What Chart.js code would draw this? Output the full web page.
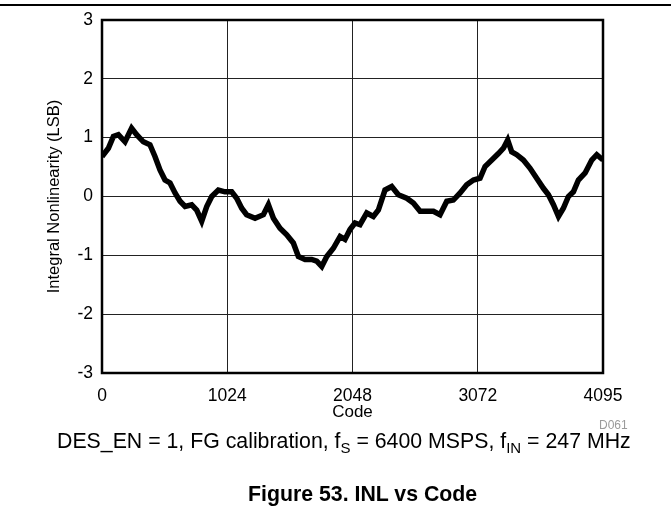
<!DOCTYPE html>
<html>
<head>
<meta charset="utf-8">
<script src="https://cdn.jsdelivr.net/npm/chart.js@4/dist/chart.umd.min.js"></script>
<style>
  html, body { margin: 0; padding: 0; background: #fff; }
  #wrap { position: relative; width: 671px; height: 510px; font-family: "Liberation Sans", Arial, sans-serif; }
  #wrap canvas { position: absolute; left: 0; top: 0; }
  .rule { position: absolute; left: 0; top: 4px; width: 671px; height: 2px; background: #000; }
  .txt { position: absolute; white-space: nowrap; color: #000; line-height: 1; }
  #docid { left: 599px; top: 419px; font-size: 12px; color: #9a9a9a; }
  #cond { left: 57px; top: 431px; font-size: 21.3px; }
  #cond sub { font-size: 15px; vertical-align: -5px; line-height: 0; }
  #fig { left: 248px; top: 484px; font-size: 21.3px; font-weight: bold; }
</style>
</head>
<body>
<div id="wrap">
  <div class="rule"></div>
  <canvas id="inlChart" width="671" height="510"></canvas>
  <div class="txt" id="docid">D061</div>
  <div class="txt" id="cond">DES_EN = 1, FG calibration, f<sub>S</sub> = 6400 MSPS, f<sub>IN</sub> = 247 MHz</div>
  <div class="txt" id="fig">Figure 53. INL vs Code</div>
</div>
<script>
// INL per output code (LSB)
const codes = [0, 52, 93, 134, 188, 242, 283, 338, 392, 433,
  474, 515, 556, 597, 638, 679, 733, 774, 815, 856,
  897, 951, 1005, 1060, 1101, 1142, 1182, 1251, 1319, 1360,
  1401, 1455, 1510, 1564, 1605, 1660, 1714, 1755, 1796, 1837,
  1891, 1946, 1986, 2027, 2068, 2109, 2164, 2218, 2259, 2313,
  2368, 2422, 2491, 2545, 2600, 2654, 2709, 2763, 2818, 2872,
  2927, 2981, 3036, 3090, 3131, 3186, 3240, 3281, 3316, 3349,
  3390, 3444, 3499, 3553, 3608, 3649, 3690, 3731, 3771, 3812,
  3853, 3894, 3949, 4003, 4044, 4095];
const inl = [0.68, 0.82, 1.02, 1.05, 0.93, 1.16, 1.05, 0.93, 0.88, 0.68,
  0.45, 0.28, 0.23, 0.06, -0.08, -0.17, -0.14, -0.23, -0.42, -0.17,
  0.0, 0.11, 0.08, 0.08, -0.03, -0.2, -0.31, -0.37, -0.31, -0.14,
  -0.37, -0.54, -0.65, -0.79, -1.02, -1.07, -1.07, -1.1, -1.19, -1.02,
  -0.88, -0.68, -0.73, -0.56, -0.45, -0.48, -0.28, -0.34, -0.23, 0.11,
  0.17, 0.03, -0.03, -0.11, -0.25, -0.25, -0.25, -0.31, -0.08, -0.06,
  0.06, 0.2, 0.28, 0.31, 0.51, 0.62, 0.73, 0.82, 0.96, 0.76,
  0.71, 0.62, 0.48, 0.31, 0.14, 0.03, -0.14, -0.34, -0.2, 0.0,
  0.08, 0.28, 0.4, 0.62, 0.71, 0.62];

const xTicks = [0, 1024, 2048, 3072, 4095];
const yTicks = [-3, -2, -1, 0, 1, 2, 3];

const FONT = "'Liberation Sans', Arial, sans-serif";

// thick frame around the plot area
const frame = {
  id: "frame",
  afterDraw(chart) {
    const { ctx, chartArea: a } = chart;
    ctx.save();
    ctx.strokeStyle = "#000";
    ctx.lineWidth = 2.5;
    ctx.strokeRect(a.left, a.top, a.right - a.left, a.bottom - a.top);
    ctx.restore();
  },
};

new Chart(document.getElementById("inlChart").getContext("2d"), {
  type: "line",
  data: {
    datasets: [
      {
        data: codes.map((c, i) => ({ x: c, y: inl[i] })),
        borderColor: "#000",
        borderWidth: 5.5,
        pointRadius: 0,
        tension: 0,
        fill: false,
      },
    ],
  },
  options: {
    responsive: false,
    animation: false,
    layout: { padding: { left: 45, right: 68, top: 20, bottom: 87 } },
    plugins: { legend: { display: false }, tooltip: { enabled: false } },
    scales: {
      x: {
        type: "linear",
        min: 0,
        max: 4095,
        afterBuildTicks: (s) => { s.ticks = xTicks.map((v) => ({ value: v })); },
        afterFit: (s) => { s.height = 50; },
        grid: { color: "#222", lineWidth: 1, drawTicks: false },
        border: { display: false },
        ticks: {
          color: "#000",
          padding: 13,
          maxRotation: 0,
          font: { family: FONT, size: 17.5 },
          callback: (v) => String(v),
        },
        title: { display: true, text: "Code", color: "#000", padding: 0, font: { family: FONT, size: 17 } },
      },
      y: {
        min: -3,
        max: 3,
        afterBuildTicks: (s) => { s.ticks = yTicks.map((v) => ({ value: v })); },
        afterFit: (s) => { s.width = 57; },
        grid: { color: "#222", lineWidth: 1, drawTicks: false },
        border: { display: false },
        ticks: { color: "#000", padding: 9, font: { family: FONT, size: 17.5 } },
        title: { display: true, text: "Integral Nonlinearity (LSB)", color: "#000", padding: 0, font: { family: FONT, size: 16.5 } },
      },
    },
  },
  plugins: [frame],
});
</script>
</body>
</html>
